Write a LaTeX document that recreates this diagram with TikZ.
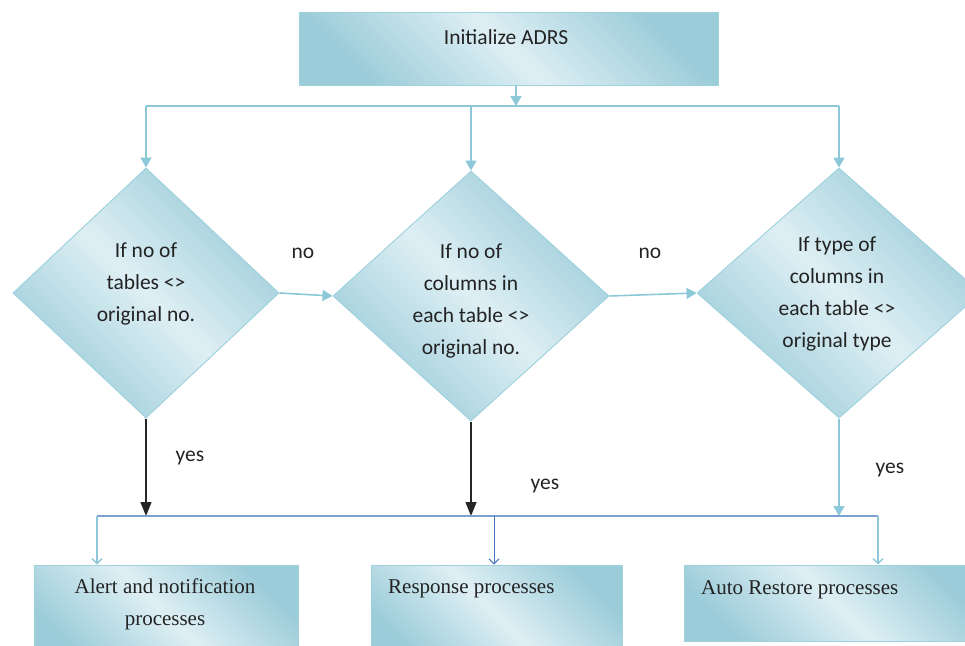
\documentclass[tikz,border=0pt]{standalone}
\usepackage{fontspec}
\setmainfont{Carlito}
\newfontfamily\boxserif{Liberation Serif}
\usetikzlibrary{shapes.geometric,arrows.meta}
\definecolor{conn}{RGB}{140,200,215}
\definecolor{edgec}{RGB}{160,210,222}
\definecolor{shdark}{RGB}{155,204,217}
\definecolor{shlight}{RGB}{222,239,244}
\definecolor{busc}{RGB}{125,160,210}
\definecolor{midc}{RGB}{70,115,190}
\definecolor{txtc}{RGB}{35,35,35}
\begin{document}
\begin{tikzpicture}[x=1pt,y=-1pt,
  shadefill/.style={draw=edgec, line width=1pt, left color=shdark, right color=shdark, middle color=shlight, shading angle=135},
  boxnode/.style={shadefill, rectangle, inner sep=0pt},
  decnode/.style={shadefill, diamond, inner sep=0pt, minimum width=#1, minimum height=250pt},
  dtxt/.style={align=center, font=\fontsize{21.5}{32}\selectfont, text=txtc, inner sep=0pt},
  btxt/.style={align=center, font=\boxserif\fontsize{21}{32}\selectfont, text=txtc, inner sep=0pt},
  lbl/.style={font=\fontsize{21.5}{26}\selectfont, text=txtc, inner sep=0pt},
  arr/.style={draw=conn, line width=1.6pt, -{Triangle[length=10pt,width=11pt]}},
  line/.style={draw=conn, line width=1.6pt},
  blackarr/.style={draw=black!85, line width=1.4pt, -{Triangle[length=14pt,width=11pt]}},
  smallarr/.style={line width=1.3pt, -{Straight Barb[length=5pt,width=10pt]}}
]
\useasboundingbox (0,0) rectangle (965,645);
\clip (0,0) rectangle (965,645);

% top box
\node[boxnode, minimum width=419pt, minimum height=73pt] (init) at (508.5,48.5) {};
\node[dtxt] (initt) at (506,37) {Initialize ADRS};

% diamonds
\node[decnode=266pt] (d1) at (146,293) {};
\node[decnode=276pt] (d2) at (471,296) {};
\node[decnode=284pt] (d3) at (839,293) {};
\node[dtxt] (t1) at (146,284) {If no of\\tables <>\\original no.};
\node[dtxt] (t2) at (471,301) {If no of\\columns in\\each table <>\\original no.};
\node[dtxt] (t3) at (837,294) {If type of\\columns in\\each table <>\\original type};

% bottom boxes
\node[boxnode, minimum width=264pt, minimum height=100pt] (b1) at (166,615) {};
\node[boxnode, minimum width=251pt, minimum height=100pt] (b2) at (496.5,615) {};
\node[boxnode, minimum width=300pt, minimum height=76pt] (b3) at (834,603) {};
\node[btxt] (b1t) at (165,604) {Alert and notification\\processes};
\node[btxt, anchor=west] (b2t) at (388,589) {Response processes};
\node[btxt, anchor=west] (b3t) at (701,590) {Auto Restore processes};

% top distribution
\coordinate (tb) at (516,106);
\draw[arr] (init.south -| tb) -- (tb);
\draw[line] (d1.north |- tb) -- (d3.north |- tb);
\draw[arr] (d1.north |- tb) -- (d1.north);
\draw[arr] (d2.north |- tb) -- (d2.north);
\draw[arr] (d3.north |- tb) -- (d3.north);

% no arrows
\draw[arr] (d1.east) -- (d2.west);
\draw[arr] (d2.east) -- (d3.west);
\node[lbl] (no1) at (303,253) {no};
\node[lbl] (no2) at (650,253) {no};

% yes arrows
\coordinate (bb) at (0,516);
\draw[blackarr] (d1.south) -- (d1.south |- bb);
\draw[blackarr] (d2.south) -- (d2.south |- bb);
\draw[arr] (d3.south) -- (d3.south |- bb);
\node[lbl] (y1) at (190,458) {yes};
\node[lbl] (y2) at (545,486) {yes};
\node[lbl] (y3) at (890,470) {yes};

% bottom distribution
\coordinate (bl) at (97,516);
\coordinate (bm) at (494,516);
\coordinate (br) at (878,516);
\draw[draw=busc, line width=1.6pt] (bl) -- (br);
\draw[smallarr, draw=conn] (bl) -- (bl |- b1.north);
\draw[smallarr, draw=midc, line width=1pt] (bm) -- (bm |- b2.north);
\draw[smallarr, draw=conn] (br) -- (br |- b3.north);
\end{tikzpicture}
\end{document}
